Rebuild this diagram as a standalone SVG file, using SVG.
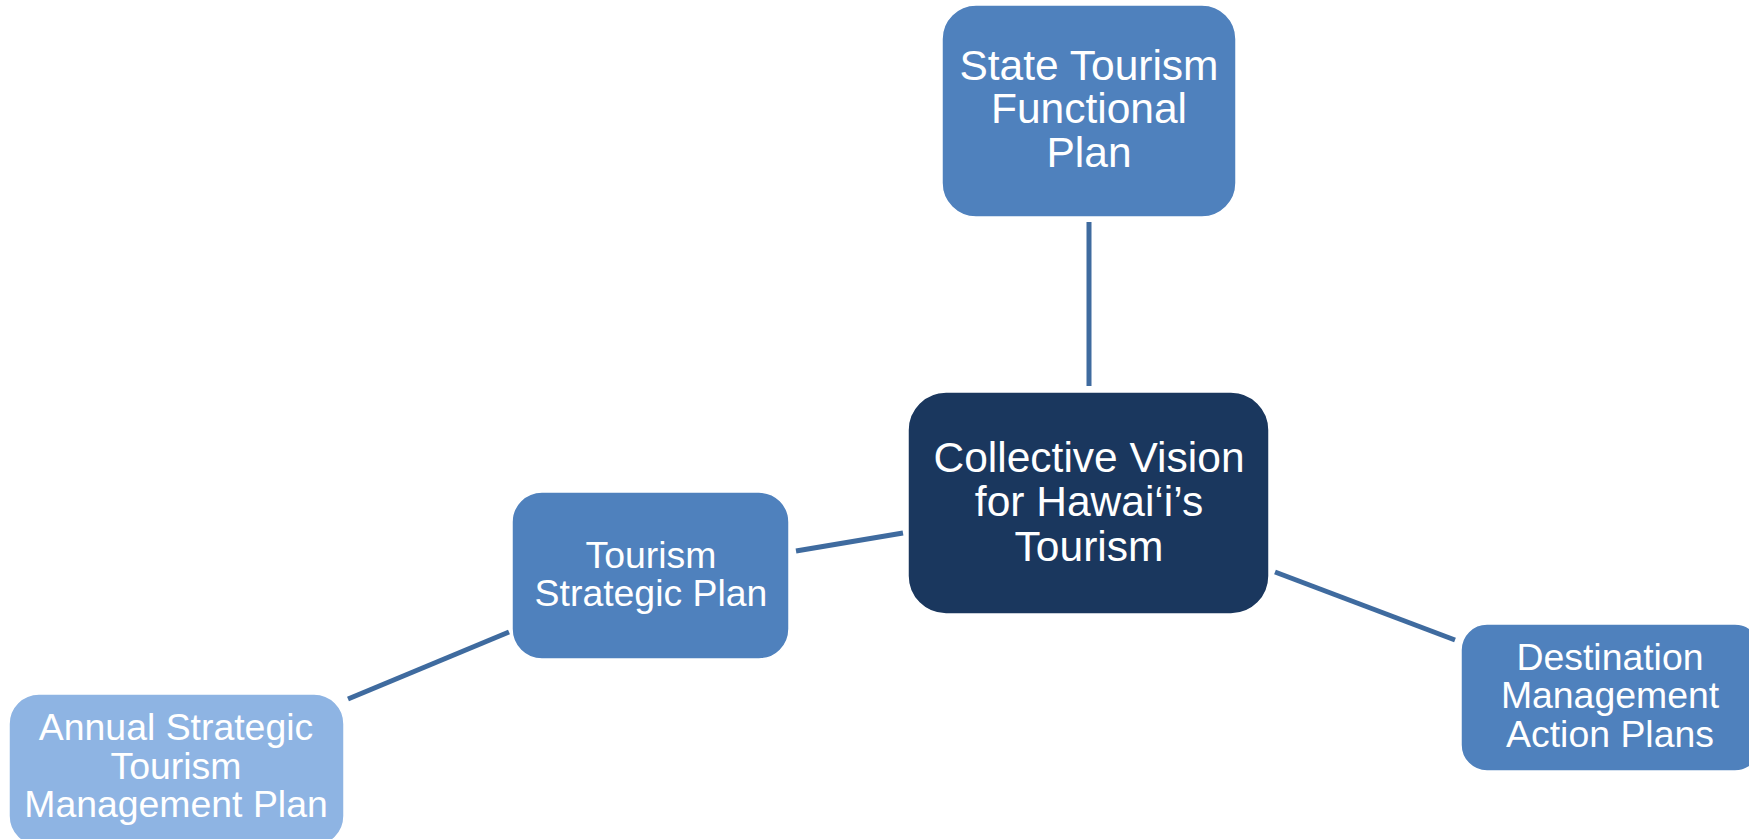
<svg xmlns="http://www.w3.org/2000/svg" width="1749" height="839" viewBox="0 0 1749 839">
<style>
.box{stroke:#ffffff;stroke-width:1.5}
.mid{fill:#4F81BD}
.dark{fill:#1A375E}
.light{fill:#8EB4E3}
.t{font-family:"Liberation Sans",Arial,sans-serif;fill:#ffffff;text-anchor:middle}
.big{font-size:42.5px}
.sm{font-size:37.4px}
.conn{stroke:#3F6B9F;stroke-width:5;fill:none}
</style>
<rect width="1749" height="839" fill="#ffffff"/>
<g id="connectors">
<line class="conn" x1="1089" y1="222" x2="1089" y2="386"/>
<line class="conn" x1="796" y1="551" x2="903" y2="533"/>
<line class="conn" x1="1275" y1="572" x2="1455" y2="640"/>
<line class="conn" x1="348" y1="699" x2="509" y2="632"/>
</g>
<g id="state-tourism">
<rect class="box mid" x="942" y="5" width="294" height="212" rx="34"/>
<text class="t big" x="1089" y="80">State Tourism</text>
<text class="t big" x="1089" y="123">Functional</text>
<text class="t big" x="1089" y="167">Plan</text>
</g>
<g id="collective-vision">
<rect class="box dark" x="908" y="392" width="361" height="222" rx="38"/>
<text class="t big" x="1089" y="472">Collective Vision</text>
<text class="t big" x="1089" y="516">for Hawai‘i’s</text>
<text class="t big" x="1089" y="561">Tourism</text>
</g>
<g id="tourism-strategic">
<rect class="box mid" x="512" y="492" width="277" height="167" rx="30"/>
<text class="t sm" x="651" y="568">Tourism</text>
<text class="t sm" x="651" y="606">Strategic Plan</text>
</g>
<g id="destination">
<rect class="box mid" x="1461" y="624" width="300" height="147" rx="26"/>
<text class="t sm" x="1610" y="670">Destination</text>
<text class="t sm" x="1610" y="708">Management</text>
<text class="t sm" x="1610" y="747">Action Plans</text>
</g>
<g id="annual">
<rect class="box light" x="9" y="694" width="335" height="152" rx="30"/>
<text class="t sm" x="176" y="740">Annual Strategic</text>
<text class="t sm" x="176" y="779">Tourism</text>
<text class="t sm" x="176" y="817">Management Plan</text>
</g>
</svg>
